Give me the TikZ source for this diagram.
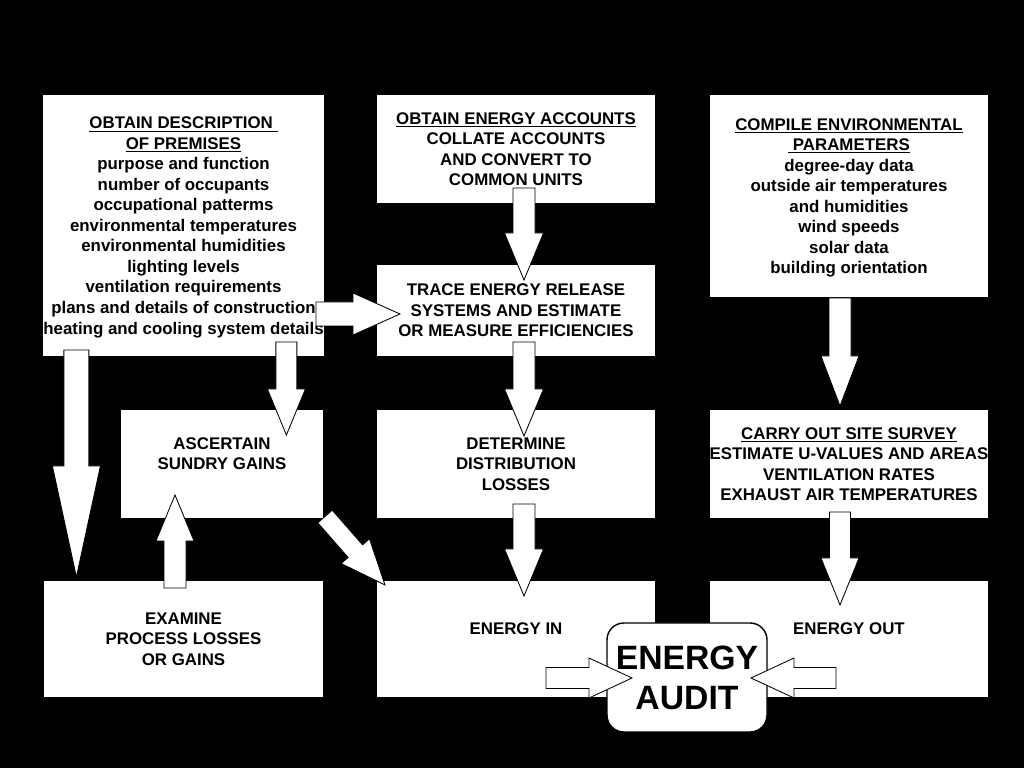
\documentclass[tikz,border=0pt]{standalone}
\usepackage{fontspec}
\setmainfont{Liberation Sans}
\usepackage{tikz}
\usetikzlibrary{calc,positioning}
\tikzstyle{box} = [rectangle, fill=white, inner sep=0pt, text depth=0pt, minimum width=6.95cm, minimum height=2.7cm, text centered, align=center, font=\fontsize{12}{14.6}\selectfont\bfseries]
\tikzstyle{audit} = [rectangle, rounded corners=12pt, draw=black, line width=1pt, fill=white, minimum width=4cm, minimum height=2.725cm, align=center, font=\fontsize{24}{28.5}\selectfont\bfseries]
\tikzstyle{heading} = [text=black, font=\fontsize{12}{14}\selectfont]
\tikzstyle{whitearrow} = [draw=black, fill=white, line width=0.6pt, line join=miter]

% block arrow: tail, tip, half shaft, half head, head length
\newcommand{\drawflow}[5]{%
  \coordinate (flowbase) at ($(#2)!#5!(#1)$);
  \draw[whitearrow] ($(#1)!#3!90:(#2)$) -- ($(flowbase)!#3!90:(#2)$) -- ($(flowbase)!#4!90:(#2)$) -- (#2)
    -- ($(flowbase)!#4!-90:(#2)$) -- ($(flowbase)!#3!-90:(#2)$) -- ($(#1)!#3!-90:(#2)$) -- cycle;
}

\begin{document}
\begin{tikzpicture}
\useasboundingbox (0,0) rectangle (25.6,19.2);
\fill[black] (0,0) rectangle (25.6,19.2);

% Title and column headings
\node (title) [heading, font=\fontsize{24}{28}\selectfont\bfseries] at (12.725,18.575) {FLOW CHART FOR AN ENERGY AUDIT};
\node (internal) [heading] at (4.4,17.3) {Internal Data};
\node (fuel) [heading] at (12.9,17.3) {Fuel Data};
\node (external) [heading] at (21.25,17.3) {External Data};

% Internal data
\node (premises) [box, minimum width=6.975cm, minimum height=6.525cm] at (4.5875,13.5625) {\underline{OBTAIN DESCRIPTION\ }\\\underline{OF PREMISES}\\purpose and function\\number of occupants\\occupational patterms\\environmental temperatures\\environmental humidities\\lighting levels\\ventilation requirements\\plans and details of construction\\heating and cooling system details};
\node (sundry) [box, minimum width=5.05cm] at (5.55,7.6) {ASCERTAIN\\SUNDRY GAINS\\\mbox{}};
\node (process) [box, minimum width=6.975cm, minimum height=2.9cm] at (4.5875,3.225) {EXAMINE\\PROCESS LOSSES\\OR GAINS};

% Fuel data
\node (accounts) [box] at (12.9,15.475) {\underline{OBTAIN ENERGY ACCOUNTS}\\COLLATE ACCOUNTS\\AND CONVERT TO\\COMMON UNITS};
\node (trace) [box, minimum height=2.275cm] at (12.9,11.4375) {TRACE ENERGY RELEASE\\SYSTEMS AND ESTIMATE\\OR MEASURE EFFICIENCIES};
\node (distribution) [box] at (12.9,7.6) {DETERMINE\\DISTRIBUTION\\LOSSES};
\node (energyin) [box, minimum height=2.9cm] at (12.9,3.225) {ENERGY IN\\\mbox{}};

% External data
\node (environment) [box, minimum height=5.05cm] at (21.225,14.3) {\underline{COMPILE ENVIRONMENTAL}\\\underline{\ PARAMETERS}\\degree-day data\\outside air temperatures\\and humidities\\wind speeds\\solar data\\building orientation};
\node (survey) [box] at (21.225,7.6) {\underline{CARRY OUT SITE SURVEY}\\ESTIMATE U-VALUES AND AREAS\\VENTILATION RATES\\EXHAUST AIR TEMPERATURES};
\node (energyout) [box, minimum height=2.9cm] at (21.225,3.225) {ENERGY OUT\\\mbox{}};

% Energy audit
\node (energyaudit) [audit] at (17.175,2.2625) {ENERGY\\AUDIT};

% Arrow ends
\coordinate (premises-down) at (1.91,10.45);
\coordinate (process-top) at (1.91,4.775);
\coordinate (premises-sundry) at (7.16,10.65);
\coordinate (sundry-top) at (7.16,8.325);
\coordinate (process-up) at (4.375,4.5);
\coordinate (sundry-bottom) at (4.375,6.825);
\coordinate (sundry-corner) at (8.125,6.2875);
\coordinate (energyin-corner) at (9.625,4.575);
\coordinate (premises-right) at (7.9,11.35);
\coordinate (trace-left) at (10.0,11.35);
\coordinate (accounts-down) at (13.1,14.5);
\coordinate (trace-top) at (13.1,12.2);
\coordinate (trace-down) at (13.1,10.65);
\coordinate (distribution-top) at (13.1,8.3);
\coordinate (distribution-down) at (13.1,6.6);
\coordinate (energyin-top) at (13.1,4.3);
\coordinate (environment-down) at (21.0,11.75);
\coordinate (survey-top) at (21.0,9.05);
\coordinate (survey-down) at (21.0,6.4);
\coordinate (energyout-top) at (21.0,4.075);
\coordinate (energyin-right) at (13.65,2.25);
\coordinate (audit-left) at (15.8,2.25);
\coordinate (energyout-left) at (20.9,2.25);
\coordinate (audit-right) at (18.775,2.25);

% Arrows
\drawflow{premises-down}{process-top}{0.3125cm}{0.6cm}{2.775cm}
\drawflow{premises-sundry}{sundry-top}{0.2625cm}{0.475cm}{1.15cm}
\drawflow{process-up}{sundry-bottom}{0.275cm}{0.475cm}{1.15cm}
\drawflow{sundry-corner}{energyin-corner}{0.24cm}{0.47cm}{1.125cm}
\drawflow{premises-right}{trace-left}{0.3cm}{0.525cm}{1.175cm}
\drawflow{accounts-down}{trace-top}{0.275cm}{0.4875cm}{1.175cm}
\drawflow{trace-down}{distribution-top}{0.275cm}{0.4875cm}{1.175cm}
\drawflow{distribution-down}{energyin-top}{0.275cm}{0.4875cm}{1.175cm}
\drawflow{environment-down}{survey-top}{0.275cm}{0.475cm}{1.25cm}
\drawflow{survey-down}{energyout-top}{0.2625cm}{0.475cm}{1.175cm}
\drawflow{energyin-right}{audit-left}{0.2625cm}{0.5cm}{1.075cm}
\drawflow{energyout-left}{audit-right}{0.2625cm}{0.5cm}{1.075cm}
\end{tikzpicture}
\end{document}
